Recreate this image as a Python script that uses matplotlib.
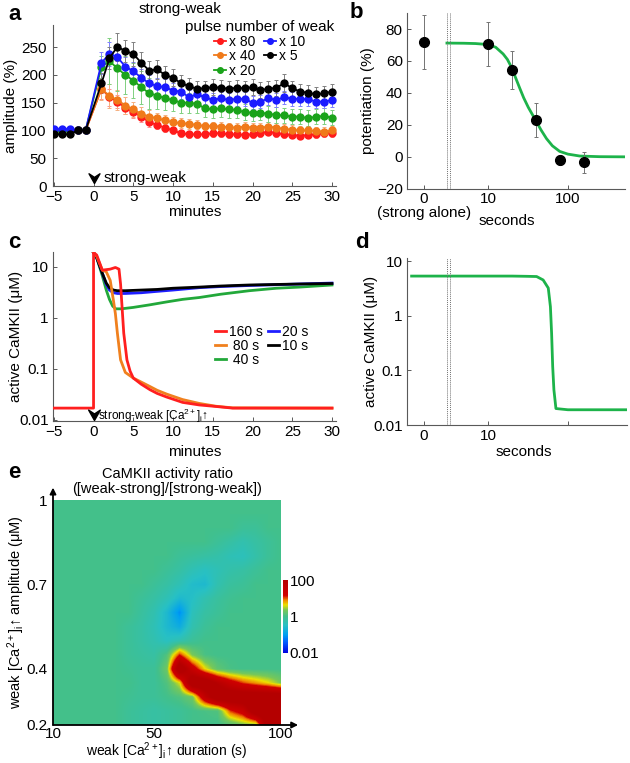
import numpy as np
import matplotlib
matplotlib.use('Agg')
import matplotlib.pyplot as plt
from matplotlib.colors import LinearSegmentedColormap, Normalize
from matplotlib.ticker import NullLocator

# ---------------- data ----------------
# panel a: amplitude (%) per minute, strong-weak with different weak pulse numbers
a_min = [-5, -4, -3, -2, -1] + list(range(1, 31))
a_labels = ['x 80', 'x 40', 'x 20', 'x 10', 'x 5']
a_x80 = [100, 100, 100, 100, 100,
         175, 160, 152, 140, 133, 125, 115, 110, 105, 100,
         95, 93, 93, 93, 95, 95, 93, 93, 92, 93,
         95, 98, 95, 93, 92, 90, 92, 93, 95, 95]
a_x40 = [100, 100, 100, 100, 100,
         175, 162, 155, 145, 138, 130, 125, 122, 118, 115,
         113, 112, 110, 108, 108, 107, 106, 105, 107, 105,
         105, 107, 105, 103, 101, 100, 100, 99, 98, 100]
a_x20 = [100, 98, 100, 100, 100,
         215, 225, 212, 200, 190, 178, 167, 163, 158, 155,
         150, 150, 148, 140, 138, 140, 138, 137, 133, 132,
         132, 130, 128, 127, 125, 125, 122, 125, 126, 123]
a_x10 = [103, 103, 103, 100, 100,
         222, 238, 232, 215, 207, 195, 185, 180, 178, 172,
         170, 160, 165, 160, 155, 158, 155, 157, 157, 150,
         152, 158, 155, 160, 157, 157, 156, 152, 152, 155]
a_x5 = [93, 93, 93, 100, 100,
        185, 230, 251, 243, 238, 222, 208, 210, 200, 195,
        185, 180, 175, 176, 178, 177, 175, 177, 176, 178,
        173, 175, 177, 185, 176, 170, 168, 165, 167, 170]
a_x80_err = [5, 5, 5, 4, 4, 18, 15, 12, 10, 10, 9, 8, 7, 7, 6,
             6, 6, 6, 6, 6, 6, 6, 6, 6, 6, 6, 6, 6, 6, 6, 6, 6, 6, 6, 6]
a_x40_err = [5, 5, 5, 4, 4, 20, 22, 18, 15, 14, 12, 11, 10, 10, 9,
             9, 9, 8, 8, 8, 8, 8, 8, 8, 8, 8, 8, 8, 8, 8, 8, 8, 8, 8, 8]
a_x20_err = [5, 5, 5, 4, 4, 20, 42, 40, 35, 32, 30, 28, 25, 22, 20,
             18, 18, 17, 16, 16, 16, 15, 15, 15, 15, 14, 14, 14, 14, 14, 14, 14, 14, 14, 14]
a_x10_err = [5, 5, 5, 4, 4, 20, 22, 20, 18, 17, 16, 15, 14, 14, 13,
             13, 13, 12, 12, 12, 12, 12, 12, 12, 12, 12, 12, 12, 12, 12, 12, 12, 12, 12, 12]
a_x5_err = [5, 5, 5, 4, 4, 18, 20, 25, 20, 22, 20, 18, 17, 16, 15,
            15, 15, 14, 14, 14, 14, 14, 14, 14, 14, 14, 14, 14, 16, 14, 14, 14, 14, 14, 14]

# panel b: potentiation (%) vs weak duration (s); 0 = strong alone
b_dur = [0, 10, 20, 40, 80, 160]
b_pot = [72, 70.5, 54.5, 23.3, -1.9, -3.4]
b_err = [16.7, 13.9, 11.7, 10.6, 3.1, 6.5]
b_fit_x = [3.07, 5, 7, 10, 12.5, 15.5, 17.5, 20, 22, 25, 28, 32, 36, 40,
           46, 54, 64, 79, 100, 141, 250, 518]
b_fit_y = [71.2, 71.1, 70.9, 70.3, 68.6, 64.4, 61, 55.5, 50, 43, 37, 31, 26.5, 22.5,
           17, 11.5, 7, 3.5, 1.8, 0.6, 0.2, 0.1]

# panel c: simulated active CaMKII (uM) vs minutes
c_labels = ['160 s', ' 80 s', ' 40 s', '20 s', '10 s']
c_t160 = [-5, 0, 0, 0.4, 1.1, 2.1, 2.75, 3.2, 3.4, 3.8, 4.2, 4.6, 5.0, 6.0,
          7.1, 8.0, 9.2, 11.2, 13.3, 15.4, 17.5, 30]
c_v160 = [0.017, 0.017, 19, 17, 8.6, 9.0, 9.7, 9.0, 4.6, 0.5, 0.15, 0.09, 0.066, 0.05,
          0.039, 0.033, 0.028, 0.022, 0.0196, 0.0183, 0.017, 0.017]
c_t80 = [0, 0.4, 1.1, 1.6, 2.1, 2.5, 2.75, 3.0, 3.4, 4.0, 5.0, 6.0, 7.1, 8.0,
         9.2, 11.2, 13.3, 15.4, 17.5, 30]
c_v80 = [19, 16, 8.6, 8.0, 5.4, 2.2, 1.2, 0.5, 0.15, 0.085, 0.066, 0.055, 0.045, 0.038,
         0.032, 0.025, 0.021, 0.0185, 0.0172, 0.017]
c_t40 = [0, 0.4, 1.1, 1.6, 2.0, 2.4, 2.8, 3.5, 5, 7.1, 9.2, 11.2, 13.3, 16, 19.6, 23, 25.9, 30]
c_v40 = [19, 15, 6.7, 3.5, 2.3, 1.7, 1.5, 1.5, 1.6, 1.8, 2.05, 2.3, 2.5, 2.9, 3.4, 3.8, 4.0, 4.4]
c_t20 = [0, 0.4, 1.1, 1.6, 2.0, 2.5, 3.0, 4, 6, 8, 10, 13.3, 16, 19.6, 25.9, 30]
c_v20 = [19, 15, 7.5, 4.5, 3.5, 3.1, 3.0, 3.0, 3.1, 3.3, 3.5, 3.9, 4.1, 4.3, 4.6, 4.8]
c_t10 = [0, 0.4, 1.1, 1.6, 2.0, 2.5, 3.0, 4, 6, 8, 10, 13.3, 16, 19.6, 25.9, 30]
c_v10 = [19, 15, 7.5, 4.8, 3.9, 3.5, 3.4, 3.4, 3.5, 3.6, 3.8, 4.0, 4.2, 4.4, 4.6, 4.7]

# panel d: active CaMKII vs weak duration (s)
d_dur = [1.11, 5, 10, 20, 30, 40.6, 49, 56.8, 60.4, 62.5, 64.5, 66.8, 70.8, 100, 200, 560]
d_camk = [5.3, 5.3, 5.3, 5.3, 5.25, 5.2, 4.5, 3.2, 1.46, 0.48, 0.117, 0.044, 0.02,
          0.019, 0.019, 0.019]

# panel e: log10 CaMKII activity ratio, rows = amplitude, cols = duration
e_dur = [10, 15, 20, 25, 30, 35, 40, 45, 50, 55, 60, 65, 70, 75, 80, 85, 90, 95, 100]
e_amp = [0.20, 0.25, 0.30, 0.35, 0.40, 0.45, 0.50, 0.55, 0.60, 0.65, 0.70,
         0.75, 0.80, 0.85, 0.90, 0.95, 1.00]
e_log_ratio = [
    [0, 0, 0, 0, 0, 0, -0.1, -0.15, -0.2, -0.15, -0.1, 0, 0, 0, 0.1, 0.3, 0.35, 2.5, 2.5],
    [0, 0, 0, 0, 0, 0, -0.1, -0.15, -0.2, -0.15, -0.1, 0, 0.05, 0.1, 1.05, 1.4, 2.5, 2.5, 2.5],
    [0, 0, 0, 0, 0, 0, -0.05, -0.1, -0.1, 0, 0.1, 0.3, 1.6, 2.5, 2.5, 2.5, 2.5, 2.5, 2.5],
    [0, 0, 0, 0, 0, 0, 0, -0.1, -0.1, 0.1, 0.6, 2.5, 2.5, 1.9, 1.4, 1.05, 0.85, 0.65, 0.35],
    [0, 0, 0, 0, 0, 0, -0.05, -0.1, -0.1, 0.3, 2.5, 1.45, 0.65, 0.2, 0.05, 0, 0, 0, 0],
    [0, 0, 0, 0, 0, 0, -0.1, -0.15, -0.2, 0.1, 1.1, 0.35, 0.05, 0, 0, 0, 0, 0, 0],
    [0, 0, 0, 0, 0, 0, -0.1, -0.2, -0.3, -0.45, -0.3, -0.1, 0, 0, 0, 0, 0, 0, 0],
    [0, 0, 0, 0, 0, 0, -0.1, -0.2, -0.35, -0.6, -0.8, -0.3, -0.1, 0, 0, 0, 0, 0, 0],
    [0, 0, 0, 0, 0, 0, 0, -0.15, -0.3, -0.6, -1.1, -0.4, -0.2, -0.1, 0, 0, 0, 0, 0],
    [0, 0, 0, 0, 0, 0, 0, -0.1, -0.2, -0.35, -0.6, -0.5, -0.3, -0.15, -0.05, 0, 0, 0, 0],
    [0, 0, 0, 0, 0, 0, 0, 0, -0.1, -0.2, -0.35, -0.55, -0.6, -0.3, -0.15, -0.1, 0, 0, 0],
    [0, 0, 0, 0, 0, 0, 0, 0, 0, -0.1, -0.2, -0.35, -0.45, -0.35, -0.25, -0.2, -0.1, 0, 0],
    [0, 0, 0, 0, 0, 0, 0, 0, 0, 0, -0.1, -0.15, -0.2, -0.25, -0.35, -0.4, -0.25, -0.1, 0],
    [0, 0, 0, 0, 0, 0, 0, 0, 0, 0, 0, 0, 0, -0.1, -0.2, -0.3, -0.2, -0.1, 0],
    [0, 0, 0, 0, 0, 0, 0, 0, 0, 0, 0, 0, 0, 0, 0, -0.1, -0.1, 0, 0],
    [0] * 19,
    [0] * 19,
]

# ---------------- style ----------------
plt.rcParams['font.family'] = ['Liberation Sans', 'DejaVu Sans']
plt.rcParams['mathtext.fontset'] = 'custom'
plt.rcParams['mathtext.rm'] = 'Liberation Sans'
plt.rcParams['mathtext.it'] = 'Liberation Sans:italic'

W, H = 630, 763
fig = plt.figure(figsize=(W / 100, H / 100), dpi=100)


def px_rect(left, top, right, bottom):
    return [left / W, 1 - bottom / H, (right - left) / W, (bottom - top) / H]


def style(ax):
    for s in ['top', 'right']:
        ax.spines[s].set_visible(False)
    for s in ['left', 'bottom']:
        ax.spines[s].set_color('0.35')
        ax.spines[s].set_linewidth(0.8)
    ax.tick_params(direction='in', length=3, width=0.7, color='0.35', labelsize=11, pad=3)


arrow_head = [(0, 0), (-0.9, 1.6), (0, 1.0), (0.9, 1.6), (0, 0)]
cols_a = ['#ff1a1a', '#f07a1a', '#1aa31a', '#1a1aff', 'black']
ecols_a = ['#ff9090', '#f5b080', '#80d080', '#8080ff', '#808080']

# ---------------- panel a ----------------
ax = fig.add_axes(px_rect(53, 25, 336, 186))
style(ax)
ax.tick_params(axis='y', pad=4.5)
series_a = [a_x80, a_x40, a_x20, a_x10, a_x5]
errs_a = [a_x80_err, a_x40_err, a_x20_err, a_x10_err, a_x5_err]
handles = []
for i in range(5):
    ax.errorbar(a_min, series_a[i], yerr=errs_a[i], fmt='none', ecolor=ecols_a[i],
                elinewidth=0.7, capsize=1.5, capthick=0.7, zorder=1 + i)
    ln, = ax.plot(a_min, series_a[i], '-o', color=cols_a[i], ms=5, lw=1.3, zorder=10 + i,
                  label=a_labels[i])
    handles.append(ln)
ax.set_xlim(-5.1, 30.5)
ax.set_ylim(0, 290)
ax.set_xticks(range(-5, 31, 5))
ax.set_yticks(range(0, 251, 50))
ax.set_ylabel('amplitude (%)', fontsize=11)
ax.yaxis.set_label_coords(-0.125, 0.5)
ax.set_xlabel('minutes', fontsize=11)
ax.xaxis.set_label_coords(0.5, -0.115)
ax.plot(0, 5, marker=arrow_head, ms=14, color='black', clip_on=False, zorder=20)
ax.text(1.2, 15, 'strong-weak', fontsize=11, va='center')
ax.legend(handles=handles, ncol=2, title='pulse number of weak', fontsize=10,
          title_fontsize=11, frameon=False, loc='upper left',
          bbox_to_anchor=(178 / W, 1 - 13 / H), bbox_transform=fig.transFigure,
          borderpad=0, handlelength=0.9, handletextpad=0.2, columnspacing=0.6,
          labelspacing=0.05, markerscale=0.8)
fig.text(180 / W, 1 - 9 / H, 'strong-weak', fontsize=11, ha='center', va='center')

# ---------------- panel b ----------------
ZERO_POS = 1.58
ax = fig.add_axes(px_rect(407, 13, 625, 189))
style(ax)
ax.tick_params(axis='x', pad=2)
ax.set_xscale('log')
bx = [ZERO_POS if d == 0 else d for d in b_dur]
ax.plot(b_fit_x, b_fit_y, color='#1db34a', lw=2, zorder=2)
ax.errorbar(bx, b_pot, yerr=b_err, fmt='o', color='black', ms=7, ecolor='0.45',
            elinewidth=0.7, capsize=1.5, capthick=0.7, zorder=3)
for xb in [3.07, 3.35]:
    ax.axvline(xb, color='0.45', lw=0.7, ls=(0, (1, 1)))
ax.set_xlim(0.972, 518)
ax.set_ylim(-20, 90)
ax.set_yticks(range(-20, 81, 20))
ax.set_xticks([ZERO_POS, 10, 100])
ax.set_xticklabels(['0', '10', '100'])
ax.xaxis.set_minor_locator(NullLocator())
ax.text(ZERO_POS, -0.135, '(strong alone)', transform=ax.get_xaxis_transform(),
        ha='center', va='center', fontsize=11)
ax.set_ylabel('potentiation (%)', fontsize=11)
ax.yaxis.set_label_coords(-0.147, 0.5)
ax.text(0.46, -0.182, 'seconds', transform=ax.transAxes, ha='center', va='center', fontsize=11)

# ---------------- panel c ----------------
ax = fig.add_axes(px_rect(53, 252, 336, 421))
style(ax)
ax.set_yscale('log')
c_cols = ['#ff1f1f', '#f0801e', '#22a83a', '#1f1fff', 'black']
c_ts = [c_t160, c_t80, c_t40, c_t20, c_t10]
c_vs = [c_v160, c_v80, c_v40, c_v20, c_v10]
c_z = [10, 9, 6, 7, 8]
c_handles = []
for i in range(5):
    ln, = ax.plot(c_ts[i], c_vs[i], color=c_cols[i], lw=2, zorder=c_z[i], label=c_labels[i])
    c_handles.append(ln)
ax.set_xlim(-5.1, 30.5)
ax.set_ylim(0.0095, 19.5)
ax.set_xticks(range(-5, 31, 5))
ax.set_yticks([0.01, 0.1, 1, 10])
ax.set_yticklabels(['0.01', '0.1', '1', '10'])
ax.yaxis.set_minor_locator(NullLocator())
ax.set_ylabel('active CaMKII (μM)', fontsize=11)
ax.yaxis.set_label_coords(-0.106, 0.5)
ax.set_xlabel('minutes', fontsize=11)
ax.xaxis.set_label_coords(0.5, -0.142)
ax.plot(0, 0.0101, marker=arrow_head, ms=15, color='black', clip_on=False, zorder=20)
ax.text(0.6, 0.0122, 'strong-weak [Ca$^{2+}$]$_{\\mathrm{i}}$↑', fontsize=8.5, va='center')
ax.legend(handles=c_handles, ncol=2, fontsize=10, frameon=False, loc='upper left',
          bbox_to_anchor=(208 / W, 1 - 318 / H), bbox_transform=fig.transFigure,
          borderpad=0, handlelength=0.8, handletextpad=0.2, columnspacing=0.4,
          labelspacing=0.0)

# ---------------- panel d ----------------
ax = fig.add_axes(px_rect(407, 258, 627, 425))
style(ax)
ax.set_xscale('log')
ax.set_yscale('log')
ax.plot(d_dur, d_camk, color='#1db34a', lw=2)
for xb in [3.07, 3.35]:
    ax.axvline(xb, color='0.45', lw=0.7, ls=(0, (1, 1)))
ax.set_xlim(0.972, 548)
ax.set_ylim(0.01, 11.35)
ax.set_xticks([ZERO_POS, 10, 100])
ax.set_xticklabels(['0', '10', ''])
ax.xaxis.set_minor_locator(NullLocator())
ax.set_yticks([0.01, 0.1, 1, 10])
ax.set_yticklabels(['0.01', '0.1', '1', '10'])
ax.yaxis.set_minor_locator(NullLocator())
ax.set_ylabel('active CaMKII (μM)', fontsize=11)
ax.yaxis.set_label_coords(-0.132, 0.5)
ax.text(0.53, -0.16, 'seconds', transform=ax.transAxes, ha='center', va='center', fontsize=11)

# ---------------- panel e ----------------
cmap = LinearSegmentedColormap.from_list('ratio', [
    (0.0, '#0000e0'), (0.15, '#0060ff'), (0.25, '#00a0f0'), (0.38, '#28c0c4'),
    (0.5, '#42c08c'), (0.59, '#78c858'), (0.66, '#ece000'), (0.73, '#f08000'),
    (0.79, '#d00000'), (1.0, '#b40000')])
ax = fig.add_axes(px_rect(53, 500, 281, 725))
heat = np.array(e_log_ratio, dtype=float)
im = ax.imshow(heat, origin='lower', aspect='auto', cmap=cmap, norm=Normalize(-2, 2),
               extent=[e_dur[0] - 2.5, e_dur[-1] + 2.5, e_amp[0] - 0.025, e_amp[-1] + 0.025],
               interpolation='bilinear', interpolation_stage='data')
ax.set_xlim(10, 100)
ax.set_ylim(0.2, 1.0)
for s in ax.spines.values():
    s.set_visible(False)
ax.set_xticks([10, 50, 100])
ax.set_yticks([0.2, 0.4, 0.7, 1])
ax.set_yticklabels(['0.2', '0.4', '0.7', '1'])
ax.tick_params(length=0, labelsize=11, pad=4)
ax.tick_params(axis='x', pad=1.5)
ax.annotate('', xy=(0, 1.055), xytext=(0, 0), xycoords='axes fraction',
            arrowprops=dict(arrowstyle='-|>', color='black', lw=1.3, mutation_scale=9,
                            shrinkA=0, shrinkB=0))
ax.annotate('', xy=(1.075, 0), xytext=(0, 0), xycoords='axes fraction',
            arrowprops=dict(arrowstyle='-|>', color='black', lw=1.3, mutation_scale=9,
                            shrinkA=0, shrinkB=0))
ax.set_title('CaMKII activity ratio\n([weak-strong]/[strong-weak])', fontsize=10.5, pad=5,
             linespacing=1.1)
ax.set_ylabel('weak [Ca$^{2+}$]$_{\\mathrm{i}}$↑ amplitude (μM)', fontsize=10.5)
ax.yaxis.set_label_coords(-0.114, 0.5)
ax.set_xlabel('weak [Ca$^{2+}$]$_{\\mathrm{i}}$↑ duration (s)', fontsize=10)
ax.xaxis.set_label_coords(0.5, -0.07)

cax = fig.add_axes(px_rect(283, 580, 288, 653))
cb = fig.colorbar(im, cax=cax, ticks=[-2, 0, 2])
cb.ax.set_yticklabels(['0.01', '1', '100'])
cb.outline.set_visible(False)
cax.tick_params(length=0, labelsize=11, pad=1)

# panel letters
for letter, xp, yp in [('a', 8, 14), ('b', 350, 13), ('c', 8, 242), ('d', 355, 242), ('e', 8, 473)]:
    fig.text(xp / W, 1 - yp / H, letter, fontsize=16, fontweight='bold', ha='left', va='center')

fig.savefig('out.png', dpi=100)
